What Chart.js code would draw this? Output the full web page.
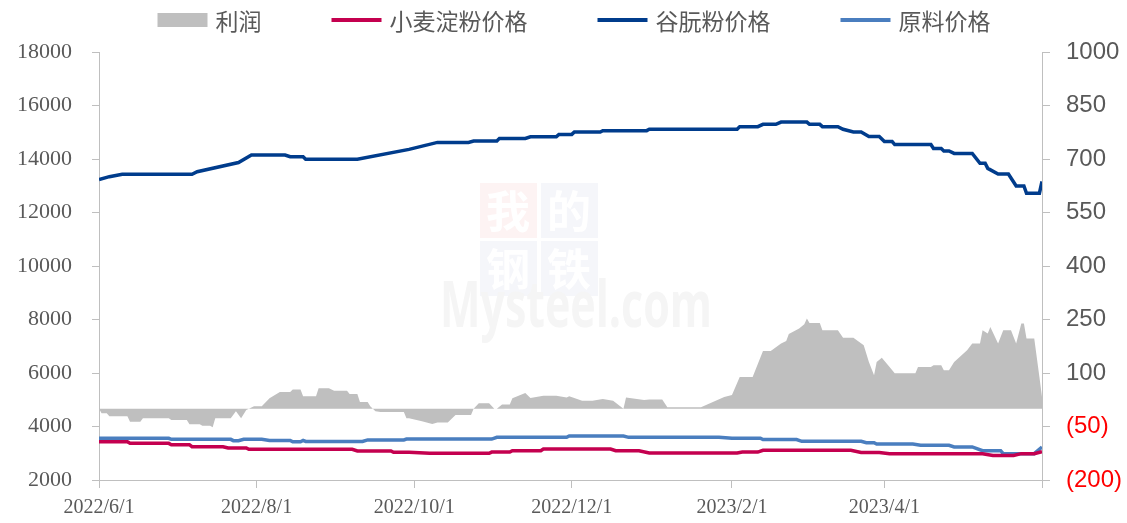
<!DOCTYPE html>
<html>
<head>
<meta charset="utf-8">
<script src="https://cdn.jsdelivr.net/npm/chart.js@4/dist/chart.umd.min.js"></script>
<style>
  html, body { margin: 0; padding: 0; background: #fff; }
  canvas { display: block; }
</style>
</head>
<body>
<canvas id="chart" width="1127" height="523"></canvas>
<script>
// x axis tick dates (last one is the axis end, shown without label)
const xTickDates = ['2022/6/1', '2022/8/1', '2022/10/1', '2022/12/1', '2023/2/1', '2023/4/1', '2023/6/1'];

// 利润 (right axis)
const profitDates = [
  '2022-06-01','2022-06-02','2022-06-04','2022-06-05','2022-06-12','2022-06-13','2022-06-17','2022-06-18','2022-06-28','2022-06-29',
  '2022-07-05','2022-07-06','2022-07-10','2022-07-11','2022-07-14','2022-07-15','2022-07-16','2022-07-22','2022-07-24','2022-07-26',
  '2022-07-28','2022-07-31','2022-08-03','2022-08-06','2022-08-10','2022-08-14','2022-08-15','2022-08-18','2022-08-19','2022-08-24',
  '2022-08-25','2022-08-29','2022-08-31','2022-09-05','2022-09-06','2022-09-09','2022-09-10','2022-09-13','2022-09-14','2022-09-16',
  '2022-09-18','2022-09-27','2022-09-28','2022-09-29','2022-10-04','2022-10-08','2022-10-10','2022-10-14','2022-10-17','2022-10-23',
  '2022-10-24','2022-10-26','2022-10-30','2022-11-01','2022-11-02','2022-11-04','2022-11-07','2022-11-08','2022-11-13','2022-11-15',
  '2022-11-20','2022-11-25','2022-11-29','2022-11-30','2022-12-05','2022-12-09','2022-12-13','2022-12-17','2022-12-21','2022-12-22',
  '2022-12-29','2022-12-31','2023-01-05','2023-01-07','2023-01-20','2023-01-29','2023-02-01','2023-02-04','2023-02-09','2023-02-13',
  '2023-02-16','2023-02-20','2023-02-22','2023-02-23','2023-02-27','2023-03-01','2023-03-02','2023-03-03','2023-03-07','2023-03-08',
  '2023-03-14','2023-03-16','2023-03-20','2023-03-24','2023-03-26','2023-03-28','2023-03-29','2023-03-31','2023-04-03','2023-04-05',
  '2023-04-13','2023-04-14','2023-04-19','2023-04-20','2023-04-23','2023-04-24','2023-04-26','2023-04-28','2023-05-03','2023-05-05',
  '2023-05-08','2023-05-09','2023-05-11','2023-05-12','2023-05-15','2023-05-17','2023-05-20','2023-05-22','2023-05-24','2023-05-25',
  '2023-05-26','2023-05-29','2023-05-31','2023-06-01'
];
const profit = [
  0, -13, -13, -21, -21, -37, -37, -27, -27, -32,
  -32, -44, -44, -48, -48, -52, -27, -27, -7, -27,
  -4, 7, 7, 29, 47, 47, 54, 54, 35, 35,
  57, 57, 50, 50, 41, 41, 19, 19, 7, -7,
  -9, -9, -27, -27, -35, -43, -39, -39, -18, -18,
  0, 15, 15, 0, 0, 12, 12, 29, 44, 30,
  36, 36, 31, 35, 22, 22, 27, 22, 0, 31,
  24, 26, 26, 4, 4, 33, 38, 89, 89, 162,
  162, 183, 190, 209, 225, 237, 253, 240, 240, 220,
  220, 199, 199, 178, 131, 94, 131, 143, 117, 99,
  99, 117, 117, 122, 122, 108, 108, 131, 164, 183,
  183, 220, 211, 229, 183, 220, 220, 183, 239, 239,
  197, 197, 89, 33
];

// 小麦淀粉价格 (left axis)
const starchDates = [
  '2022-06-01','2022-06-12','2022-06-13','2022-06-28','2022-06-29','2022-07-06','2022-07-07','2022-07-19','2022-07-21','2022-07-28',
  '2022-07-29','2022-09-07','2022-09-09','2022-09-22','2022-09-23','2022-09-29','2022-10-07','2022-10-30','2022-10-31','2022-11-07',
  '2022-11-08','2022-11-19','2022-11-20','2022-12-16','2022-12-18','2022-12-27','2022-12-31','2023-02-03','2023-02-05','2023-02-11',
  '2023-02-13','2023-03-19','2023-03-23','2023-03-30','2023-04-03','2023-05-09','2023-05-13','2023-05-21','2023-05-24','2023-05-29',
  '2023-06-01'
];
const starchPrice = [
  3430, 3430, 3370, 3370, 3320, 3320, 3245, 3245, 3195, 3195,
  3145, 3145, 3085, 3085, 3035, 3035, 3000, 3000, 3045, 3045,
  3095, 3095, 3160, 3160, 3095, 3095, 3010, 3010, 3045, 3045,
  3110, 3110, 3030, 3030, 2985, 2985, 2920, 2920, 2985, 2985,
  3060
];

// 谷朊粉价格 (left axis)
const glutenDates = [
  '2022-06-01','2022-06-05','2022-06-10','2022-07-07','2022-07-09','2022-07-25','2022-07-30','2022-08-12','2022-08-14','2022-08-19',
  '2022-08-20','2022-09-09','2022-09-29','2022-10-10','2022-10-22','2022-10-24','2022-11-02','2022-11-03','2022-11-13','2022-11-15',
  '2022-11-25','2022-11-26','2022-12-01','2022-12-02','2022-12-12','2022-12-13','2022-12-30','2022-12-31','2023-02-03','2023-02-04',
  '2023-02-11','2023-02-13','2023-02-18','2023-02-20','2023-03-02','2023-03-03','2023-03-07','2023-03-08','2023-03-14','2023-03-16',
  '2023-03-20','2023-03-23','2023-03-26','2023-03-30','2023-04-01','2023-04-04','2023-04-05','2023-04-19','2023-04-20','2023-04-23',
  '2023-04-24','2023-04-26','2023-04-28','2023-05-05','2023-05-08','2023-05-10','2023-05-11','2023-05-15','2023-05-19','2023-05-22',
  '2023-05-25','2023-05-26','2023-05-31','2023-06-01'
];
const glutenPrice = [
  13230, 13340, 13430, 13430, 13525, 13870, 14150, 14150, 14085, 14085,
  13990, 13990, 14360, 14620, 14620, 14670, 14670, 14770, 14770, 14830,
  14830, 14920, 14920, 15010, 15010, 15060, 15060, 15110, 15110, 15210,
  15210, 15295, 15295, 15380, 15380, 15295, 15295, 15210, 15210, 15110,
  15010, 15010, 14840, 14840, 14650, 14650, 14540, 14540, 14390, 14390,
  14300, 14300, 14210, 14210, 13840, 13840, 13650, 13440, 13440, 12990,
  12990, 12720, 12720, 13160
];

// 原料价格 (left axis)
const rawDates = [
  '2022-06-01','2022-06-28','2022-06-29','2022-07-22','2022-07-23','2022-07-25','2022-07-27','2022-08-03','2022-08-06','2022-08-14',
  '2022-08-15','2022-08-18','2022-08-19','2022-08-20','2022-09-11','2022-09-13','2022-09-27','2022-09-28','2022-10-31','2022-11-02',
  '2022-11-29','2022-11-30','2022-12-21','2022-12-23','2023-01-27','2023-02-01','2023-02-12','2023-02-13','2023-02-26','2023-02-28',
  '2023-03-23','2023-03-25','2023-03-28','2023-03-29','2023-04-12','2023-04-15','2023-04-26','2023-04-28','2023-05-05','2023-05-09',
  '2023-05-16','2023-05-17','2023-05-29','2023-06-01'
];
const rawPrice = [
  3560, 3560, 3520, 3520, 3470, 3470, 3520, 3520, 3480, 3480,
  3430, 3430, 3480, 3440, 3440, 3500, 3500, 3530, 3530, 3595,
  3595, 3645, 3645, 3595, 3595, 3560, 3560, 3510, 3510, 3445,
  3445, 3395, 3395, 3345, 3345, 3300, 3300, 3235, 3235, 3095,
  3095, 2985, 2985, 3235
];

// days since 2022-06-01, used as the x value
const START = Date.UTC(2022, 5, 1);
function dayOf(s) {
  const p = s.split(/[-\/]/).map(Number);
  return Math.round((Date.UTC(p[0], p[1] - 1, p[2]) - START) / 86400000);
}
function points(dates, values) {
  return dates.map((d, i) => ({ x: dayOf(d), y: values[i] }));
}
const tickDays = xTickDates.map(dayOf);

const GREY_TEXT = '#595959';
const AXIS = '#BFBFBF';

// legend drawn across the top
const topLegend = {
  id: 'topLegend',
  afterDraw(chart) {
    const ctx = chart.ctx;
    const items = chart.data.datasets;
    ctx.save();
    ctx.font = '23px "Noto Sans CJK SC"';
    ctx.textBaseline = 'middle';
    const widths = items.map(d => 58 + ctx.measureText(d.label).width);
    const gap = 70;
    const total = widths.reduce((a, b) => a + b, 0) + gap * (items.length - 1);
    let x = 574 - total / 2;
    const y = 20;
    items.forEach((d, i) => {
      if (d.fill) {
        ctx.fillStyle = d.backgroundColor;
        ctx.fillRect(x, y - 7, 50, 14);
      } else {
        ctx.strokeStyle = d.borderColor;
        ctx.lineWidth = 4;
        ctx.beginPath();
        ctx.moveTo(x, y);
        ctx.lineTo(x + 50, y);
        ctx.stroke();
      }
      ctx.fillStyle = GREY_TEXT;
      ctx.fillText(d.label, x + 58, y + 1);
      x += widths[i] + gap;
    });
    ctx.restore();
  }
};

// faint watermark behind the data
const watermark = {
  id: 'watermark',
  beforeDatasetsDraw(chart) {
    const ctx = chart.ctx;
    ctx.save();
    const cells = [
      ['我', 480, 183, '#FDF3F3'],
      ['的', 541, 183, '#F5F6FA'],
      ['钢', 480, 241, '#F5F6FA'],
      ['铁', 541, 241, '#F5F6FA']
    ];
    ctx.font = 'bold 44px "Noto Sans CJK SC"';
    ctx.textAlign = 'center';
    ctx.textBaseline = 'middle';
    cells.forEach(([ch, x, y, bg]) => {
      ctx.fillStyle = bg;
      ctx.fillRect(x, y, 57, 55);
      ctx.fillStyle = '#FFFFFF';
      ctx.fillText(ch, x + 28, y + 28);
    });
    ctx.font = 'bold 64px "Open Sans"';
    ctx.textAlign = 'left';
    ctx.textBaseline = 'alphabetic';
    ctx.fillStyle = '#F5F5F5';
    ctx.fillText('Mysteel.com', 440, 327, 272);
    ctx.restore();
  }
};

new Chart(document.getElementById('chart'), {
  type: 'line',
  data: {
    datasets: [
      {
        label: '利润',
        data: points(profitDates, profit),
        yAxisID: 'y1',
        fill: 'origin',
        backgroundColor: '#BFBFBF',
        borderColor: '#BFBFBF',
        borderWidth: 0,
        pointRadius: 0
      },
      {
        label: '小麦淀粉价格',
        data: points(starchDates, starchPrice),
        yAxisID: 'y',
        fill: false,
        borderColor: '#C4004F',
        borderWidth: 3.5,
        pointRadius: 0
      },
      {
        label: '谷朊粉价格',
        data: points(glutenDates, glutenPrice),
        yAxisID: 'y',
        fill: false,
        borderColor: '#003C8C',
        borderWidth: 3.5,
        pointRadius: 0
      },
      {
        label: '原料价格',
        data: points(rawDates, rawPrice),
        yAxisID: 'y',
        fill: false,
        borderColor: '#4A7EBF',
        borderWidth: 3.5,
        pointRadius: 0
      }
    ]
  },
  options: {
    responsive: false,
    animation: false,
    layout: { padding: { top: 52, left: 0, right: 0, bottom: 0 } },
    plugins: {
      legend: { display: false },
      tooltip: { enabled: false }
    },
    scales: {
      x: {
        type: 'linear',
        min: 0,
        max: tickDays[tickDays.length - 1],
        afterBuildTicks: s => { s.ticks = tickDays.map(v => ({ value: v })); },
        afterFit: s => { s.height = 43; },
        ticks: {
          autoSkip: false,
          maxRotation: 0,
          padding: 8,
          color: GREY_TEXT,
          font: { family: '"Liberation Serif"', size: 20 },
          callback: (v, i) => (i < xTickDates.length - 1 ? xTickDates[i] : '')
        },
        grid: { drawOnChartArea: false, tickLength: 8, color: AXIS },
        border: { color: AXIS }
      },
      y: {
        position: 'left',
        min: 2000,
        max: 18000,
        afterFit: s => { s.width = 99; },
        ticks: {
          stepSize: 2000,
          padding: 20,
          color: GREY_TEXT,
          font: { family: '"Liberation Serif"', size: 22 },
          callback: v => String(v)
        },
        grid: { drawOnChartArea: false, tickLength: 7, color: AXIS },
        border: { color: AXIS }
      },
      y1: {
        position: 'right',
        min: -200,
        max: 1000,
        afterFit: s => { s.width = 85; },
        ticks: {
          stepSize: 150,
          padding: 16,
          color: c => (c.tick && c.tick.value < 0 ? '#FF0000' : GREY_TEXT),
          font: { family: '"Liberation Sans"', size: 24 },
          callback: v => (v < 0 ? '(' + (-v) + ')' : String(v))
        },
        grid: { drawOnChartArea: false, tickLength: 8, color: AXIS },
        border: { color: AXIS }
      }
    }
  },
  plugins: [watermark, topLegend]
});
</script>
</body>
</html>
